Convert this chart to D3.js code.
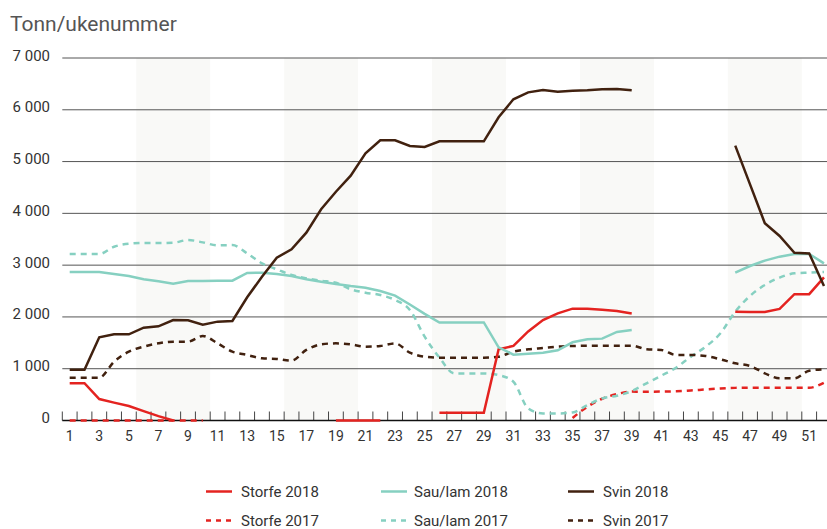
<!DOCTYPE html>
<html>
<head>
<meta charset="utf-8">
<script src="https://cdn.jsdelivr.net/npm/d3@7"></script>
<style>
  body { margin: 0; background: #fff; }
  svg text { font-family: Roboto, "Noto Sans", sans-serif; }
</style>
</head>
<body>
<svg id="chart"></svg>
<script>
var svg;
var width = 827, height = 529;
var margin = { left: 62.3, top: 58, bottom: 420.5 };
var weekWidth = 14.79;

// weeks and tick labels
var weeks = d3.range(1, 53);
var weekLabels = weeks.filter((w) => w % 2 == 1);
var yTicks = [0, 1000, 2000, 3000, 4000, 5000, 6000, 7000];
// shaded week bands [from, to]
var bands = [[6, 10], [16, 20], [26, 30], [36, 40], [46, 50]];

// Tonn per week, null = no data
var storfe2018 = [720, 720, 415, 345, 280, 180, 85, 0, null, null,
  null, null, null, null, null, null, null, null, 0, 0,
  0, 0, null, null, null, 150, 150, 150, 150, 1375,
  1440, 1720, 1940, 2070, 2160, 2160, 2140, 2115, 2065, null,
  null, null, null, null, null, 2100, 2095, 2095, 2155, 2440,
  2440, 2765];
var storfe2017 = [0, 0, 0, 0, 0, 0, 0, 0, 0, 0,
  null, null, null, null, null, null, null, null, null, null,
  null, null, null, null, null, null, null, null, null, null,
  null, null, null, null, 50, 265, 420, 510, 558, 556,
  558, 565, 580, 600, 618, 630, 633, 633, 633, 633,
  633, 730];
var sau2018 = [2867, 2867, 2867, 2830, 2790, 2726, 2687, 2642, 2694, 2694,
  2700, 2700, 2850, 2854, 2829, 2790, 2726, 2681, 2636, 2597,
  2565, 2501, 2411, 2240, 2060, 1893, 1893, 1893, 1893, 1413,
  1272, 1291, 1310, 1355, 1510, 1568, 1581, 1710, 1748, null,
  null, null, null, null, null, 2854, 2983, 3087, 3164, 3216,
  3216, 3035];
var sau2017 = [3215, 3215, 3215, 3356, 3414, 3427, 3427, 3433, 3485, 3440,
  3382, 3388, 3227, 3035, 2919, 2810, 2745, 2700, 2660, 2533,
  2468, 2423, 2327, 2134, 1619, 1215, 909, 909, 909, 877,
  748, 233, 136, 136, 155, 297, 426, 478, 570, 718,
  866, 1020, 1233, 1426, 1684, 2102, 2405, 2617, 2759, 2842,
  2855, 2867];
var svin2018 = [980, 980, 1606, 1664, 1664, 1793, 1819, 1941, 1935, 1851,
  1909, 1922, 2379, 2777, 3144, 3306, 3627, 4078, 4418, 4727,
  5160, 5411, 5411, 5300, 5281, 5391, 5391, 5391, 5391, 5855,
  6202, 6337, 6382, 6350, 6369, 6376, 6395, 6401, 6376, null,
  null, null, null, null, null, 5307, 4560, 3808, 3563, 3240,
  3227, 2597];
var svin2017 = [827, 827, 827, 1136, 1329, 1426, 1490, 1523, 1523, 1632,
  1490, 1329, 1265, 1201, 1188, 1156, 1362, 1471, 1490, 1471,
  1426, 1439, 1490, 1310, 1233, 1213, 1213, 1213, 1213, 1233,
  1329, 1375, 1400, 1426, 1439, 1445, 1445, 1445, 1445, 1375,
  1362, 1265, 1265, 1246, 1182, 1104, 1053, 911, 814, 814,
  962, 988];

var red = "#e42320", teal = "#86d0c1", brown = "#41210f";

var series = [
  { name: "Storfe 2017", values: storfe2017, color: red, dashed: true },
  { name: "Sau/lam 2017", values: sau2017, color: teal, dashed: true },
  { name: "Svin 2017", values: svin2017, color: brown, dashed: true },
  { name: "Storfe 2018", values: storfe2018, color: red, dashed: false },
  { name: "Sau/lam 2018", values: sau2018, color: teal, dashed: false },
  { name: "Svin 2018", values: svin2018, color: brown, dashed: false },
];

document.addEventListener("DOMContentLoaded", function () {
  svg = d3.select("#chart").attr("width", width).attr("height", height);
  drawChart();
});

function drawChart() {
  let x = d3.scaleLinear()
    .domain([0.5, 52.5])
    .range([margin.left, margin.left + 52 * weekWidth]);
  let y = d3.scaleLinear().domain([0, 7000]).range([margin.bottom, margin.top]);
  let fmt = d3.formatLocale({ decimal: ",", thousands: " ", grouping: [3] }).format(",d");

  // week bands
  svg.append("g")
    .selectAll("rect")
    .data(bands)
    .enter()
    .append("rect")
    .attr("x", (d) => x(d[0] - 0.5))
    .attr("width", (d) => x(d[1] + 0.5) - x(d[0] - 0.5))
    .attr("y", y(7000))
    .attr("height", y(0) - y(7000))
    .style("fill", "#f9f9f7");

  // gridlines
  svg.append("g")
    .selectAll("line")
    .data(yTicks.slice(1))
    .enter()
    .append("line")
    .attr("x1", margin.left)
    .attr("x2", width)
    .attr("y1", (d) => y(d))
    .attr("y2", (d) => y(d))
    .style("stroke", "#555")
    .style("stroke-width", 1);

  // y labels
  svg.append("g")
    .selectAll("text")
    .data(yTicks)
    .enter()
    .append("text")
    .attr("x", 50)
    .attr("y", (d) => y(d) + 2.5)
    .attr("text-anchor", "end")
    .style("font-size", "15px")
    .style("fill", "#333")
    .text((d) => fmt(d));

  svg.append("text")
    .attr("x", 10)
    .attr("y", 31)
    .style("font-size", "21px")
    .style("fill", "#555")
    .text("Tonn/ukenummer");

  // x axis: ticks between weeks, labels on odd weeks
  svg.append("g")
    .selectAll("line")
    .data(d3.range(0, 53))
    .enter()
    .append("line")
    .attr("x1", (d) => x(d + 0.5))
    .attr("x2", (d) => x(d + 0.5))
    .attr("y1", y(0) - 9)
    .attr("y2", y(0))
    .style("stroke", "#444")
    .style("stroke-width", 1);

  svg.append("line")
    .attr("x1", margin.left)
    .attr("x2", width)
    .attr("y1", y(0))
    .attr("y2", y(0))
    .style("stroke", "#111")
    .style("stroke-width", 1.5);

  svg.append("g")
    .selectAll("text")
    .data(weekLabels)
    .enter()
    .append("text")
    .attr("x", (d) => x(d))
    .attr("y", 441)
    .attr("text-anchor", "middle")
    .style("font-size", "14px")
    .style("fill", "#333")
    .text((d) => d);

  // lines
  series.forEach(function (s) {
    let line = d3.line()
      .defined((d) => d != null)
      .x((d, i) => x(weeks[i]))
      .y((d) => y(d))
      .curve(s.dashed ? d3.curveMonotoneX : d3.curveLinear);
    svg.append("path")
      .datum(s.values)
      .attr("d", line)
      .style("fill", "none")
      .style("stroke", s.color)
      .style("stroke-width", 2.5)
      .style("stroke-dasharray", s.dashed ? "6,5" : null);
  });

  // legend
  let legendX = [206, 381, 568];
  let legend = svg.append("g")
    .selectAll("g")
    .data(series)
    .enter()
    .append("g")
    .attr("transform", (d, i) => `translate(${legendX[i % 3]},${d.dashed ? 520.5 : 491.5})`);
  legend.append("line")
    .attr("x1", 0)
    .attr("x2", 26)
    .style("stroke", (d) => d.color)
    .style("stroke-width", 2.5)
    .style("stroke-dasharray", (d) => (d.dashed ? "5,5" : null));
  legend.append("text")
    .attr("x", (d, i) => (i % 3 == 1 ? 33 : 35))
    .attr("y", 5.5)
    .style("font-size", "15px")
    .style("fill", "#333")
    .text((d) => d.name);
}
</script>
</body>
</html>
